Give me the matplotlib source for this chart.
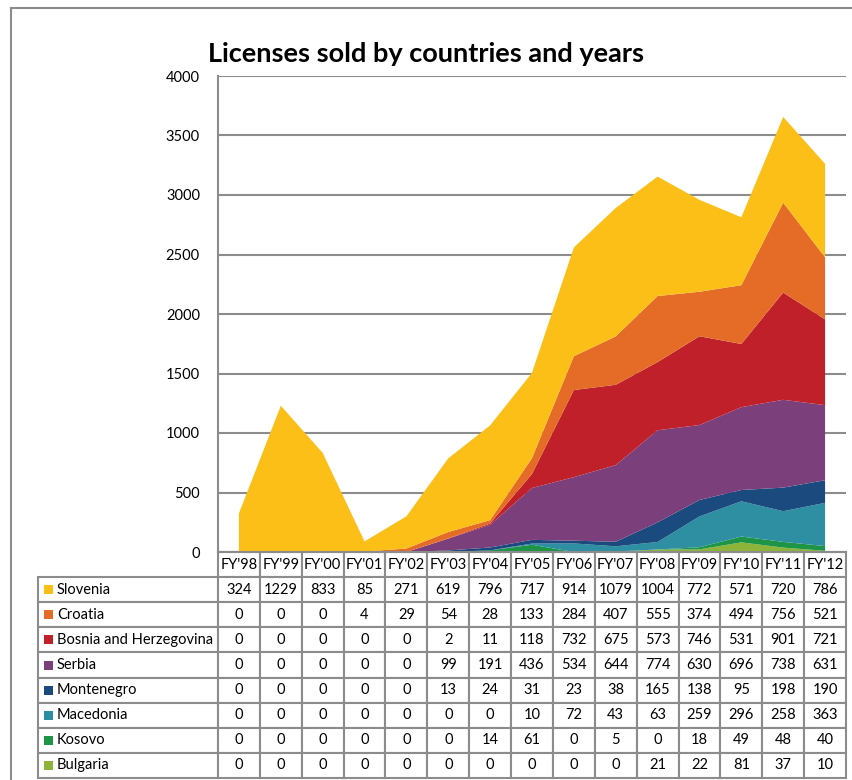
import matplotlib
matplotlib.use("Agg")
import matplotlib.pyplot as plt
from matplotlib.patches import Rectangle
from matplotlib.lines import Line2D

plt.rcParams['font.family'] = ['Lato', 'DejaVu Sans']

years = ["FY'98", "FY'99", "FY'00", "FY'01", "FY'02", "FY'03", "FY'04", "FY'05",
         "FY'06", "FY'07", "FY'08", "FY'09", "FY'10", "FY'11", "FY'12"]
countries = ["Slovenia", "Croatia", "Bosnia and Herzegovina", "Serbia",
             "Montenegro", "Macedonia", "Kosovo", "Bulgaria"]

slovenia = [324, 1229, 833, 85, 271, 619, 796, 717, 914, 1079, 1004, 772, 571, 720, 786]
croatia = [0, 0, 0, 4, 29, 54, 28, 133, 284, 407, 555, 374, 494, 756, 521]
bosnia = [0, 0, 0, 0, 0, 2, 11, 118, 732, 675, 573, 746, 531, 901, 721]
serbia = [0, 0, 0, 0, 0, 99, 191, 436, 534, 644, 774, 630, 696, 738, 631]
montenegro = [0, 0, 0, 0, 0, 13, 24, 31, 23, 38, 165, 138, 95, 198, 190]
macedonia = [0, 0, 0, 0, 0, 0, 0, 10, 72, 43, 63, 259, 296, 258, 363]
kosovo = [0, 0, 0, 0, 0, 0, 14, 61, 0, 5, 0, 18, 49, 48, 40]
bulgaria = [0, 0, 0, 0, 0, 0, 0, 0, 0, 0, 21, 22, 81, 37, 10]

series = [slovenia, croatia, bosnia, serbia, montenegro, macedonia, kosovo, bulgaria]
colors = ["#FCBF17", "#E46C26", "#C0202A", "#7B3F7C",
          "#1B4A7F", "#2E8EA2", "#1E9446", "#8DB33A"]

W, H = 853, 780
fig = plt.figure(figsize=(W / 100, H / 100), dpi=100)

# plot area in pixels
left, right, top, bottom = 218, 846, 76, 552
ax = fig.add_axes([left / W, 1 - bottom / H, (right - left) / W, (bottom - top) / H])

x = list(range(len(years)))
# Excel stacks the last series at the bottom
ax.stackplot(x, series[::-1], colors=colors[::-1], linewidth=0)

grid_c = "#8c8c8c"
ax.set_xlim(-0.5, len(years) - 0.5)
ax.set_ylim(0, 4000)
ax.set_yticks(range(0, 4001, 500))
ax.yaxis.grid(True, color=grid_c, linewidth=1.5)
ax.set_axisbelow(True)
ax.set_xticks([])
ax.tick_params(axis='y', length=0, pad=13, labelsize=10.5)
for s in ['top', 'right']:
    ax.spines[s].set_visible(False)
for s in ['left', 'bottom']:
    ax.spines[s].set_color(grid_c)
    ax.spines[s].set_linewidth(1.5)

# data table under the plot
label_w = (left - 38) / (right - left)
cell_w = 1.0 / len(years)
header = [[""] + years]
rows = [[c] + [str(v) for v in s] for c, s in zip(countries, series)]
tab_h = (778 - bottom) / (bottom - top)
tbl = ax.table(cellText=header + rows,
               colWidths=[label_w] + [cell_w] * len(years),
               cellLoc='center',
               bbox=[-label_w, -tab_h, 1 + label_w, tab_h])
tbl.auto_set_font_size(False)
tbl.set_fontsize(10.5)
for (r, c), cell in tbl.get_celld().items():
    cell.set_edgecolor(grid_c)
    cell.set_linewidth(1.5)
    if c == 0:
        cell._loc = 'left'
        cell.PAD = 0.105
        cell.get_text().set_horizontalalignment('left')
    if r == 0 and c == 0:
        cell.visible_edges = ''

row_h = tab_h / 9
px = 1 / (right - left)
py = 1 / (bottom - top)
for i, col in enumerate(colors):
    yc = -row_h * (i + 1.5)
    ax.add_patch(Rectangle((-label_w + 6 * px, yc - 4.5 * py), 9 * px, 9 * py,
                           transform=ax.transAxes, facecolor=col, edgecolor='none',
                           clip_on=False))

fig.text(426 / W, 1 - 54 / H, "Licenses sold by countries and years",
         ha='center', va='center', fontsize=19.5, fontweight='bold')

# chart frame
fig.add_artist(Line2D([11 / W, 11 / W], [0, 1 - 8 / H], color=grid_c, linewidth=1.5))
fig.add_artist(Line2D([11 / W, 1], [1 - 8 / H, 1 - 8 / H], color=grid_c, linewidth=1.5))

fig.savefig("out.png", dpi=100)
